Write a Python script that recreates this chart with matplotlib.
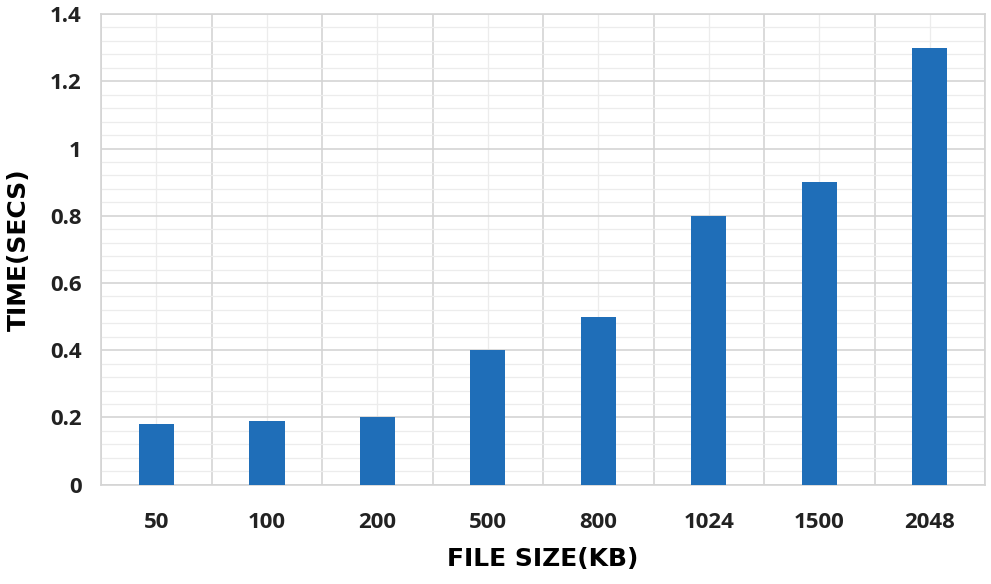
import numpy as np
import matplotlib
matplotlib.use("Agg")
import matplotlib.pyplot as plt
from matplotlib.ticker import MultipleLocator, FixedLocator

sizes = ["50", "100", "200", "500", "800", "1024", "1500", "2048"]
times = [0.18, 0.19, 0.20, 0.40, 0.50, 0.80, 0.90, 1.30]
yticks = [0, 0.2, 0.4, 0.6, 0.8, 1.0, 1.2, 1.4]
ylabels = ["0", "0.2", "0.4", "0.6", "0.8", "1", "1.2", "1.4"]

fig = plt.figure(figsize=(9.91, 5.84), dpi=100)
ax = fig.add_axes([0.102, 0.17, 0.892, 0.806])

x = np.arange(len(sizes))
ax.bar(x, times, width=0.32, color="#1f6eb8", zorder=3)

ax.set_xlim(-0.5, len(sizes) - 0.5)
ax.set_ylim(0, 1.4)
ax.yaxis.set_minor_locator(MultipleLocator(0.04))
ax.xaxis.set_major_locator(FixedLocator(x))
ax.xaxis.set_minor_locator(FixedLocator(np.arange(len(sizes) + 1) - 0.5))
ax.set_xticklabels(sizes)
ax.set_yticks(yticks)
ax.set_yticklabels(ylabels)

# darker lines on the main ticks and category edges, faint ones in between
ax.grid(which="major", axis="y", color="#d4d4d4", lw=1.2, zorder=0)
ax.grid(which="minor", axis="y", color="#ececec", lw=0.9, zorder=0)
ax.grid(which="minor", axis="x", color="#d4d4d4", lw=1.2, zorder=0)
ax.grid(which="major", axis="x", color="#ececec", lw=0.9, zorder=0)

for s in ax.spines.values():
    s.set_color("#d4d4d4")
    s.set_linewidth(1.2)
ax.tick_params(which="both", length=0)
ax.tick_params(axis="x", pad=20)
ax.tick_params(axis="y", pad=14)

for lab in ax.get_xticklabels() + ax.get_yticklabels():
    lab.set_fontfamily("Open Sans")
    lab.set_fontweight("bold")
    lab.set_fontsize(16)
    lab.set_color("#222222")

ax.set_xlabel("FILE SIZE(KB)", fontsize=18, fontweight="heavy", family="DejaVu Sans", labelpad=10)
ax.set_ylabel("TIME(SECS)", fontsize=18, fontweight="heavy", family="DejaVu Sans", labelpad=14)

fig.savefig("out.png", dpi=100)
